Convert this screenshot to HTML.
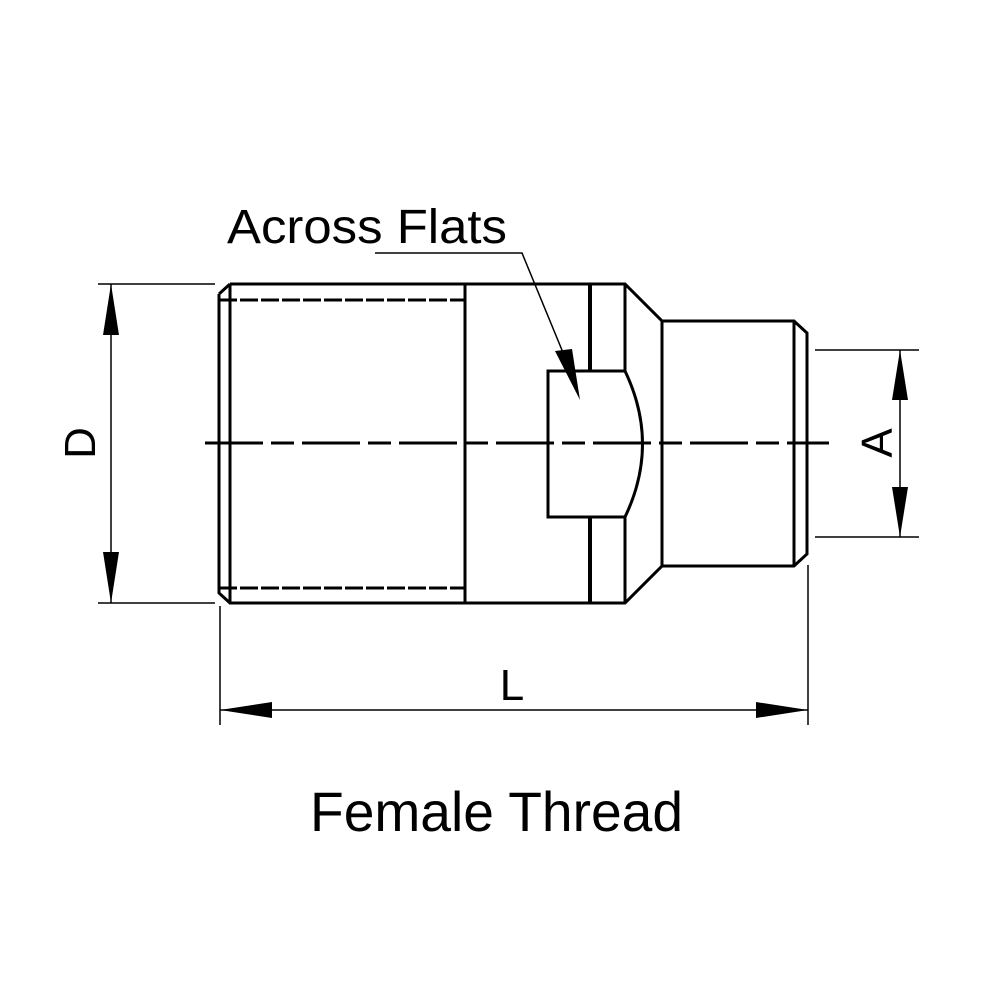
<!DOCTYPE html>
<html><head><meta charset="utf-8"><style>html,body{margin:0;padding:0;background:#fff}svg{display:block}</style></head>
<body>
<svg width="1000" height="1000" viewBox="0 0 1000 1000" xmlns="http://www.w3.org/2000/svg">
<g fill="none" stroke="#000" stroke-width="3">
  <path d="M230,284 L590,284 M219,294 L230,284 M219,294 L219,593 L230,603 L590,603"/>
  <line x1="230" y1="284" x2="230" y2="603"/>
  <line x1="219" y1="300" x2="465" y2="300" stroke-dasharray="18,3"/>
  <line x1="219" y1="588" x2="465" y2="588" stroke-dasharray="18,3"/>
  <line x1="465" y1="284" x2="465" y2="603"/>
  <line x1="590" y1="284" x2="590" y2="371" stroke-width="4"/>
  <line x1="590" y1="517" x2="590" y2="603" stroke-width="4"/>
  <path d="M590,284 L625,284 L662,321 L662,566 L625,603 L590,603"/>
  <line x1="625" y1="284" x2="625" y2="371"/>
  <line x1="625" y1="517" x2="625" y2="603"/>
  <path d="M548,371 L625,371 Q660,444 625,517 L548,517 Z"/>
  <path d="M662,321 L794,321 L807,333 L807,554 L794,566 L662,566"/>
  <line x1="794" y1="321" x2="794" y2="566"/>
  <line x1="205" y1="443" x2="829" y2="443" stroke-dasharray="58,8,23,8"/>
</g>
<g stroke="#000" stroke-width="1.5" fill="none">
  <line x1="98" y1="284" x2="215" y2="284"/>
  <line x1="98" y1="603" x2="215" y2="603"/>
  <line x1="111" y1="284" x2="111" y2="603"/>
  <line x1="815" y1="350" x2="919" y2="350"/>
  <line x1="815" y1="537" x2="919" y2="537"/>
  <line x1="900" y1="350" x2="900" y2="537"/>
  <line x1="220" y1="606" x2="220" y2="725"/>
  <line x1="808" y1="565" x2="808" y2="725"/>
  <line x1="220" y1="710" x2="808" y2="710"/>
  <polyline points="375,253 522,253 571,372"/>
</g>
<g fill="#000">
  <polygon points="111,284 103,335 119,335"/>
  <polygon points="111,603 103,552 119,552"/>
  <polygon points="900,350 892,400 908,400"/>
  <polygon points="900,537 892,487 908,487"/>
  <polygon points="220,710 272,702 272,718"/>
  <polygon points="808,710 756,702 756,718"/>
  <polygon points="580,400 555,351 572,349"/>
</g>
<g font-family="Liberation Sans, Arial, sans-serif" fill="#000">
  <text x="227" y="243" font-size="48" textLength="280" lengthAdjust="spacingAndGlyphs">Across Flats</text>
  <text x="310" y="831" font-size="56" textLength="373" lengthAdjust="spacingAndGlyphs">Female Thread</text>
  <text x="512" y="700" font-size="44" text-anchor="middle">L</text>
  <text transform="translate(95,443) rotate(-90)" font-size="44" text-anchor="middle">D</text>
  <text transform="translate(892,443) rotate(-90)" font-size="44" text-anchor="middle">A</text>
</g>
</svg>
</body></html>
